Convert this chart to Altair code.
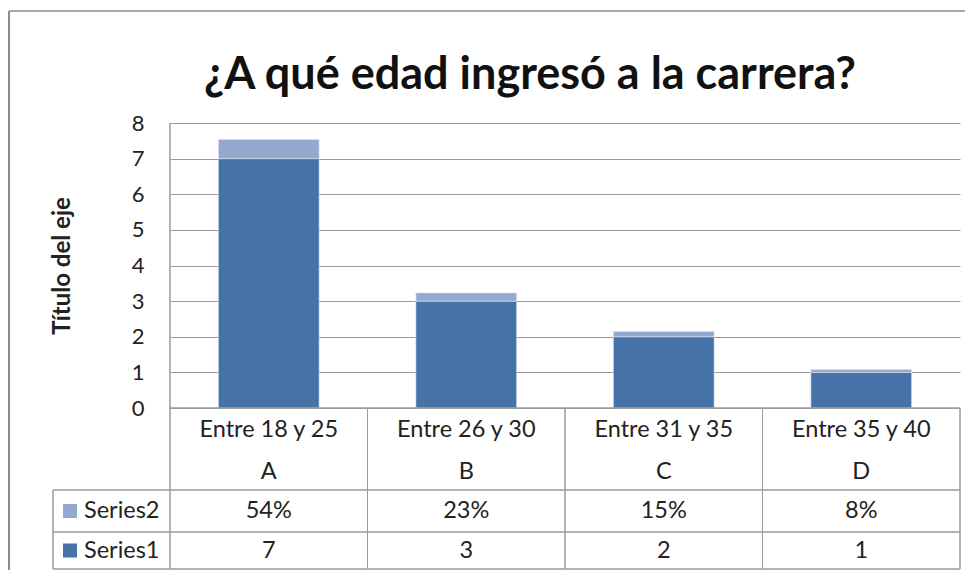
import altair as alt
import pandas as pd

# ---- data ----
categories = ["Entre 18 y 25", "Entre 26 y 30", "Entre 31 y 35", "Entre 35 y 40"]
letters = ["A", "B", "C", "D"]
series_names = ["Series1", "Series2"]
series1 = [7, 3, 2, 1]
series2 = [0.54, 0.23, 0.15, 0.08]
series1_labels = ["7", "3", "2", "1"]
series2_labels = ["54%", "23%", "15%", "8%"]
y_ticks = [0, 1, 2, 3, 4, 5, 6, 7, 8]
colors = ["#4572A7", "#95A9D0"]
chart_title = "¿A qué edad ingresó a la carrera?"
y_title = "Título del eje"

rows = []
for i, c in enumerate(categories):
    rows.append({"category": c, "letter": letters[i], "series": "Series1",
                 "order": 0, "value": series1[i], "label": series1_labels[i]})
    rows.append({"category": c, "letter": letters[i], "series": "Series2",
                 "order": 1, "value": series2[i], "label": series2_labels[i]})
df = pd.DataFrame(rows)
cat_df = pd.DataFrame({"category": categories, "letter": letters})
leg_df = pd.DataFrame({"series": series_names})

# ---- layout ----
W, H = 790, 285
step = W / len(categories)
LEFT_T = -117
ROW1_B = 367
ROW2_B = 409
ROW3_B = 446
GRID = "#9a9a9a"
TXT = "#222222"
FONT = "Lato"
TFS = 23.5

xenc = alt.X("category:N", sort=categories,
             scale=alt.Scale(domain=categories, paddingInner=0.49, paddingOuter=0.245),
             axis=None)
color_scale = alt.Scale(domain=series_names, range=colors)

bars = alt.Chart(df).mark_bar(stroke="#dfe6f0", strokeWidth=0.6).encode(
    x=xenc,
    y=alt.Y("value:Q", stack="zero",
            scale=alt.Scale(domain=[0, 8], nice=False),
            axis=alt.Axis(values=y_ticks, grid=True, gridColor=GRID, gridWidth=1,
                          domain=False, ticks=False, labelPadding=26,
                          labelFontSize=22, labelColor=TXT, labelFont=FONT,
                          title=y_title, titleFont=FONT, titleFontSize=24,
                          titleFontWeight="bold", titleColor=TXT, titleAngle=270,
                          titleX=-108, titleY=H / 2, titleAlign="center",
                          titleBaseline="middle")),
    color=alt.Color("series:N", scale=color_scale, legend=None),
    order=alt.Order("order:Q"),
)

def hrule(y, x1, x2, color=GRID):
    return alt.Chart(leg_df).mark_rule(color=color, strokeWidth=1).encode(
        x=alt.value(x1), x2=alt.value(x2), y=alt.value(y))

def vrule(x, y1, y2, color=GRID, w=1):
    return alt.Chart(leg_df).mark_rule(color=color, strokeWidth=w).encode(
        x=alt.value(x), y=alt.value(y1), y2=alt.value(y2))

lines = [
    hrule(H, 0, W),
    hrule(ROW1_B, LEFT_T, W),
    hrule(ROW2_B, LEFT_T, W),
    hrule(ROW3_B, LEFT_T, W),
    vrule(LEFT_T, ROW1_B, ROW3_B),
]
for k in range(len(categories) + 1):
    lines.append(vrule(k * step, 0 if k == 0 else H, ROW3_B))

# outer border
lines.append(hrule(-112, -161, W + 10, color="#8c8c8c"))
lines.append(vrule(-161, -112, ROW3_B + 20, color="#8c8c8c", w=2))

cat1 = alt.Chart(cat_df).mark_text(fontSize=TFS, font=FONT, color=TXT, baseline="middle").encode(
    x=xenc, y=alt.value(307), text="category:N")
cat2 = alt.Chart(cat_df).mark_text(fontSize=TFS, font=FONT, color=TXT, baseline="middle").encode(
    x=xenc, y=alt.value(349), text="letter:N")

s2_text = alt.Chart(df).transform_filter(alt.datum.series == "Series2").mark_text(
    fontSize=TFS, font=FONT, color=TXT, baseline="middle").encode(
    x=xenc, y=alt.value((ROW1_B + ROW2_B) / 2), text="label:N")
s1_text = alt.Chart(df).transform_filter(alt.datum.series == "Series1").mark_text(
    fontSize=TFS, font=FONT, color=TXT, baseline="middle").encode(
    x=xenc, y=alt.value((ROW2_B + ROW3_B) / 2), text="label:N")

legend_layers = []
for s, yc in [("Series2", (ROW1_B + ROW2_B) / 2), ("Series1", (ROW2_B + ROW3_B) / 2)]:
    base = alt.Chart(leg_df).transform_filter(alt.datum.series == s)
    legend_layers.append(base.mark_square(size=196, opacity=1).encode(
        x=alt.value(-100), y=alt.value(yc),
        color=alt.Color("series:N", scale=color_scale, legend=None)))
    legend_layers.append(base.mark_text(fontSize=TFS, font=FONT, color=TXT, align="left",
                                        baseline="middle").encode(
        x=alt.value(-86), y=alt.value(yc), text="series:N"))

title_df = pd.DataFrame({"t": [chart_title]})
title = alt.Chart(title_df).mark_text(fontSize=45, font=FONT, fontWeight="bold",
                                      color="#111111", align="center",
                                      baseline="alphabetic").encode(
    x=alt.value(360), y=alt.value(-34), text="t:N")

chart = alt.layer(bars, *lines, cat1, cat2, s2_text, s1_text, *legend_layers, title).properties(
    width=W, height=H,
    autosize=alt.AutoSizeParams(type="none"),
    padding={"left": 162, "top": 115, "right": 5, "bottom": 162},
    background="white",
).configure_view(stroke=None)

chart.save("out.html", embed_options={"renderer": "svg", "actions": False})
